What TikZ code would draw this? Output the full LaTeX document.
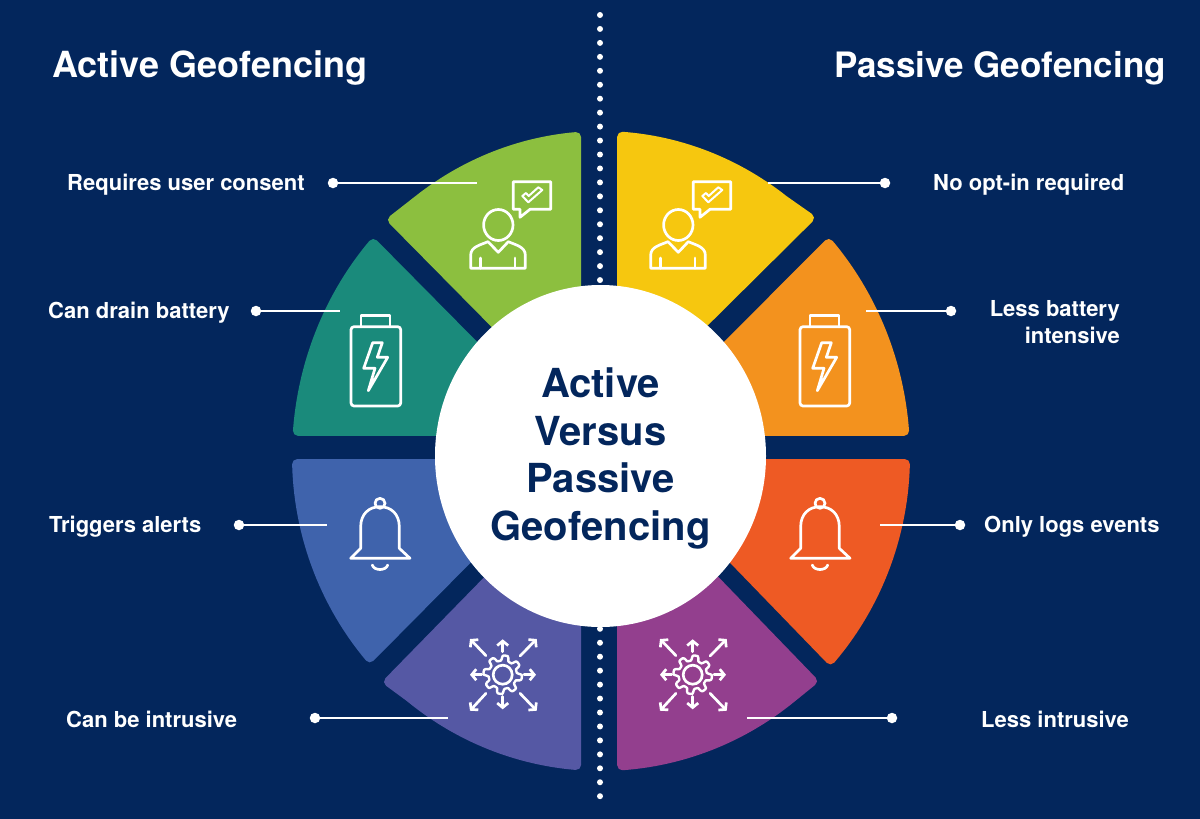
\documentclass[tikz,border=0pt]{standalone}
\usepackage{fontspec}
\setmainfont{TeX Gyre Heros}
\usetikzlibrary{arrows.meta}
\definecolor{navy}{HTML}{03265C}
\definecolor{cGreen}{HTML}{8CBF3F}
\definecolor{cTeal}{HTML}{1A8A7B}
\definecolor{cBlue}{HTML}{3F63AC}
\definecolor{cViolet}{HTML}{5558A4}
\definecolor{cYellow}{HTML}{F6C70F}
\definecolor{cOrange}{HTML}{F3921E}
\definecolor{cRed}{HTML}{EE5A24}
\definecolor{cPlum}{HTML}{933F8E}
\tikzset{
  wedgeshape/.style={fill=#1,draw=#1,line width=10pt,line join=round},
  iconline/.style={draw=white,line width=2.7pt,line join=round,line cap=round,fill=none},
  arrowline/.style={iconline,-{Straight Barb[length=4.5pt,width=11pt,line width=2.7pt]}},
  leader/.style={draw=white,line width=2pt},
  leaderdot/.style={circle,fill=white,inner sep=0pt,minimum size=10.5pt},
  itemtext/.style={text=white,font=\fontsize{22}{26.5}\selectfont\bfseries,inner sep=0pt},
  headtext/.style={text=white,font=\fontsize{36}{40}\selectfont\bfseries,inner sep=0pt},
  headtextnarrow/.style={text=white,font=\fontsize{35}{40}\selectfont\bfseries,inner sep=0pt},
  hubtext/.style={text=navy,font=\fontsize{40}{47.5}\selectfont\bfseries,align=center,inner sep=0pt},
  divider/.style={draw=white,line width=6pt,line cap=round,dash pattern=on 0pt off 13.95pt},
}
\newcommand{\iconUser}{%
  \draw[iconline] (498.3,225) ellipse [x radius=14.7,y radius=15.5];
  \draw[iconline] (470.7,268.3) -- (470.7,255) .. controls (470.7,247) and (480,245) .. (488,241.7)
     -- (498.3,252.3) -- (508.3,241.7) .. controls (516,245) and (525.3,247) .. (525.3,255) -- (525.3,268.3) -- cycle;
  \draw[iconline] (480.7,268.3) -- (480.7,258) (515,268.3) -- (515,258);
  \draw[iconline] (513.3,181.7) -- (550.7,181.7) -- (550.7,209.3) -- (530,209.3) -- (520,217.3) -- (520,209.3) -- (513.3,209.3) -- cycle;
  \draw[iconline,line width=2pt] (522.3,196) -- (528.3,202.3) -- (542.3,190) -- (538.3,187.3) -- (528.7,196) -- (526,193) -- cycle;
}
\newcommand{\iconBattery}{%
  \draw[iconline,rounded corners=3pt] (351,326.7) rectangle (400.7,406);
  \draw[iconline] (361,326.7) -- (361,315.7) -- (390,315.7) -- (390,326.7);
  \draw[iconline] (372.7,342.7) -- (382.3,342.7) -- (377.3,357.3) -- (387.7,357.3) -- (368.3,390.7) -- (375,368.3) -- (363.7,368.3) -- cycle;
}
\newcommand{\iconBell}{%
  \draw[iconline] (380,503.3) circle [radius=5];
  \draw[iconline] (350.7,558.3) -- (360.7,548.3) -- (360.7,526.7) .. controls (360.7,514) and (369,506.7) .. (380,506.7)
     .. controls (391,506.7) and (399.3,514) .. (399.3,526.7) -- (399.3,548.3) -- (410,558.3) -- cycle;
  \draw[iconline] (372.3,565) .. controls (374,571) and (386,571) .. (387.7,565);
}
\newcommand{\iconGear}{%
  \draw[iconline] (502.7,674.7) circle [radius=9.5];
  \draw[iconline,line width=2.4pt] plot[domain=0:360,samples=97,smooth] ({502.7+(16.7+2.6*tanh(3*sin(8*\x+22.5)))*cos(\x)},{674.7+(16.7+2.6*tanh(3*sin(8*\x+22.5)))*sin(\x)}) -- cycle;
  \draw[arrowline] (502.7,651.7) -- (502.7,639.3);
  \draw[arrowline] (502.7,696.5) -- (502.7,709.3);
  \draw[arrowline] (524,674.7) -- (536,674.7);
  \draw[arrowline] (481.7,674.7) -- (470,674.7);
  \draw[arrowline] (520,656) -- (536.7,639);
  \draw[arrowline] (486,655.7) -- (470,639);
  \draw[arrowline] (520,693.3) -- (536.7,710.7);
  \draw[arrowline] (486,693.3) -- (470,710.7);
}
\begin{document}
\begin{tikzpicture}[x=1pt,y=-1pt]
\path[fill=navy,use as bounding box] (0,0) rectangle (1200,819);
\coordinate (divTop) at (600,15);
\coordinate (divBottom) at (600,805);
\draw[divider] (divTop) -- (divBottom);
% left wedges
\path[wedgeshape=cGreen] plot[domain=94.7:127,samples=30] ({601+304*cos(\x)},{456-320*sin(\x)}) -- (393,220) -- (510,338.5) -- (576,338.5) -- cycle;
\path[wedgeshape=cTeal] plot[domain=138.5:175.5,samples=30] ({601+304*cos(\x)},{456-320*sin(\x)}) -- (490,431) -- (490,362) -- cycle;
\path[wedgeshape=cBlue] plot[domain=181.5:220.5,samples=30] ({601+304*cos(\x)},{456-310*sin(\x)}) -- (490,536) -- (490,464) -- cycle;
\path[wedgeshape=cViolet] (389,681.7) -- plot[domain=231:265.3,samples=30] ({601+304*cos(\x)},{456-310*sin(\x)}) -- (576,560) -- (505,563) -- cycle;
% right wedges
\path[wedgeshape=cYellow] plot[domain=86:53,samples=30] ({601+304*cos(\x)},{456-320*sin(\x)}) -- (809,218) -- (690,336) -- (622,338) -- cycle;
\path[wedgeshape=cOrange] plot[domain=41.5:4.5,samples=30] ({601+304*cos(\x)},{456-320*sin(\x)}) -- (711,431) -- (711,362) -- cycle;
\path[wedgeshape=cRed] plot[domain=-1.5:-41,samples=30] ({601+304*cos(\x)},{456-310*sin(\x)}) -- (712,537) -- (712,464) -- cycle;
\path[wedgeshape=cPlum] (812,681) -- plot[domain=-51:-86,samples=30] ({601+304*cos(\x)},{456-310*sin(\x)}) -- (622,560) -- (697,562) -- cycle;
% hub
\path[fill=white] (600.5,456) ellipse [x radius=165.5,y radius=171];
\node[hubtext,anchor=center] (hub) at (600.5,458.5) {Active\\Versus\\Passive\\Geofencing};
% headings
\node[headtext,anchor=base west] (headL) at (52,77.7) {Active Geofencing};
\node[headtextnarrow,anchor=base east] (headR) at (1166,77.7) {Passive Geofencing};
% icons
\iconUser
\begin{scope}[xshift=180pt]\iconUser\end{scope}
\iconBattery
\begin{scope}[xshift=449pt]\iconBattery\end{scope}
\iconBell
\begin{scope}[xshift=440pt]\iconBell\end{scope}
\iconGear
\begin{scope}[xshift=190pt]\iconGear\end{scope}
% labels
\node[itemtext,anchor=base west] (t1) at (67,190.5) {Requires user consent};
\node[itemtext,anchor=base west] (t2) at (48,318.5) {Can drain battery};
\node[itemtext,anchor=base west] (t3) at (49,532.5) {Triggers alerts};
\node[itemtext,anchor=base west] (t4) at (66,727.5) {Can be intrusive};
\node[itemtext,anchor=base west] (t5) at (933,190.5) {No opt-in required};
\node[itemtext,anchor=east,align=right] (t6) at (1120,322) {Less battery\\intensive};
\node[itemtext,anchor=base west] (t7) at (984,532.5) {Only logs events};
\node[itemtext,anchor=base west] (t8) at (981,727.5) {Less intrusive};
% leaders
\node[leaderdot] (d1) at (333,183) {};
\node[leaderdot] (d2) at (256,311) {};
\node[leaderdot] (d3) at (239,525) {};
\node[leaderdot] (d4) at (315,718) {};
\node[leaderdot] (d5) at (885,183) {};
\node[leaderdot] (d6) at (951,311) {};
\node[leaderdot] (d7) at (960,525) {};
\node[leaderdot] (d8) at (892,718) {};
\coordinate (e1) at (477,183);
\coordinate (e2) at (340,311);
\coordinate (e3) at (327,525);
\coordinate (e4) at (448,718);
\coordinate (e5) at (768,183);
\coordinate (e6) at (866,311);
\coordinate (e7) at (880,525);
\coordinate (e8) at (747,718);
\foreach \a/\b in {d1/e1,d2/e2,d3/e3,d4/e4,d5/e5,d6/e6,d7/e7,d8/e8}{\draw[leader] (\a) -- (\b);}
\end{tikzpicture}
\end{document}
